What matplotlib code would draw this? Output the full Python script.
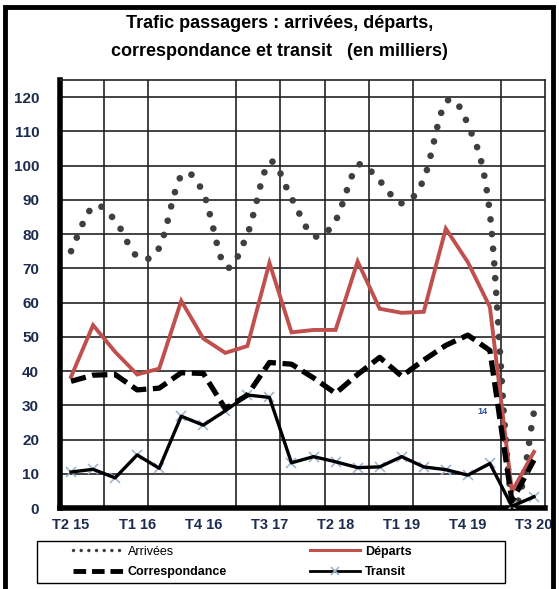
import numpy as np
import matplotlib
matplotlib.use("Agg")
import matplotlib.pyplot as plt
from matplotlib.path import Path
from matplotlib.patches import PathPatch, Rectangle
from matplotlib.lines import Line2D

quarters = ["T2 15", "T3 15", "T4 15", "T1 16", "T2 16", "T3 16", "T4 16", "T1 17",
            "T2 17", "T3 17", "T4 17", "T1 18", "T2 18", "T3 18", "T4 18", "T1 19",
            "T2 19", "T3 19", "T4 19", "T1 20", "T2 20", "T3 20"]
tick_labels = ["T2 15", "T1 16", "T4 16", "T3 17", "T2 18", "T1 19", "T4 19", "T3 20"]
arrivees = [75, 88, 84, 73.5, 76, 97, 92, 70.5, 80, 101, 90.5, 79.5, 84, 100, 95.5,
            89, 96, 118.5, 112, 86, 2.5, 28]
departs = [38.3, 53.4, 45.6, 39, 40.7, 60.5, 49.5, 45.3, 47.3, 71.6, 51.3, 52, 52,
           72, 58.2, 57, 57.3, 81.6, 71.8, 58.7, 4.8, 16.4]
correspondance = [37, 38.8, 39, 34.5, 35, 39.5, 39.3, 29, 33, 42.5, 42, 38, 33.5,
                  39, 44, 38.5, 43.2, 47.5, 50.5, 46, 2, 14]
transit = [10.5, 11.3, 8.8, 15.5, 11.6, 26.8, 24.2, 28.4, 33, 32.3, 13.2, 15, 13.5,
           11.8, 12, 15, 12, 11.2, 9.6, 13, 0.5, 3.3]
labels = ["Arrivées", "Correspondance", "Départs", "Transit"]

navy = "#1c2b4f"
red = "#c0504d"
dotgray = "#3f3f3f"
xcol = "#9fb4d0"

plt.rcParams['font.family'] = ['Liberation Sans', 'DejaVu Sans']

fig = plt.figure(figsize=(5.59, 5.89), dpi=100)
ax = fig.add_axes([60/559, 1-508/589, 485/559, 428/589])

x = np.arange(len(quarters))

# Arrivées: smoothed curve (Bezier through the read points), dotted
pts = np.column_stack([x, arrivees]).astype(float)
verts = [tuple(pts[0])]
codes = [Path.MOVETO]
n = len(pts)
for i in range(n - 1):
    p0 = pts[max(i - 1, 0)]
    p1 = pts[i]
    p2 = pts[i + 1]
    p3 = pts[min(i + 2, n - 1)]
    c1 = p1 + (p2 - p0) / 6.0
    c2 = p2 - (p3 - p1) / 6.0
    verts += [tuple(c1), tuple(c2), tuple(p2)]
    codes += [Path.CURVE4] * 3
patch = PathPatch(Path(verts, codes), facecolor='none', edgecolor=dotgray,
                  linewidth=4.8, linestyle=(0, (0.01, 2.2)), capstyle='round', zorder=3)
ax.add_patch(patch)

ax.plot(x, departs, color=red, linewidth=2.8, zorder=4, solid_joinstyle='miter')
ax.plot(x, correspondance, color='black', linewidth=3.8, linestyle=(0, (2.9, 1.25)),
        zorder=5)
ax.plot(x, transit, color='black', linewidth=2.4, zorder=4)
ax.plot(x, transit, linestyle='none', marker='x', markersize=7, markeredgewidth=1.2,
        color=xcol, zorder=3.5)

ax.text(18.65, 28.2, "14", color="#3050a0", fontsize=6.5, fontweight='bold', ha='center',
        va='center', zorder=6)

ax.set_xlim(-0.5, len(quarters) - 0.5)
ax.set_ylim(0, 125)
ax.set_yticks(np.arange(0, 121, 10))
ax.set_yticklabels([str(v) for v in range(0, 121, 10)], fontsize=11, fontweight='bold',
                   color=navy)
tick_pos = [quarters.index(t) for t in tick_labels]
ax.set_xticks(tick_pos)
ax.set_xticklabels(tick_labels, fontsize=10.5, fontweight='bold', color=navy)
ax.tick_params(axis='x', length=0, pad=7)
ax.tick_params(axis='y', length=0, pad=15)

for yv in range(10, 121, 10):
    ax.axhline(yv, color='#222222', linewidth=1.2, zorder=1)
for b in [1.5, 3.5, 7.5, 9.5, 11.5, 13.5, 15.5, 19.5]:
    ax.axvline(b, color='#222222', linewidth=1.2, zorder=1)

for s in ['top', 'right']:
    ax.spines[s].set_linewidth(1.2)
    ax.spines[s].set_color('#222222')
ax.spines['left'].set_linewidth(4)
ax.spines['bottom'].set_linewidth(4)

# title
fig.text(0.5, 1 - 23/589, "Trafic passagers : arrivées, départs,", ha='center', va='center',
         fontsize=13, fontweight='bold')
fig.text(0.5, 1 - 52/589, "correspondance et transit   (en milliers)", ha='center',
         va='center', fontsize=13, fontweight='bold')

# legend
handles = [
    Line2D([0], [0], color=dotgray, linewidth=2.5, linestyle=(0, (0.01, 2.2)),
           dash_capstyle='round'),
    Line2D([0], [0], color='black', linewidth=3.5, linestyle=(0, (2.6, 1.2))),
    Line2D([0], [0], color=red, linewidth=2.2),
    Line2D([0], [0], color='black', linewidth=2, marker='x', markersize=6,
           markeredgecolor=xcol, markeredgewidth=1.2),
]
leg = fig.legend(handles, labels, ncol=2, loc='center left',
                 bbox_to_anchor=(73/559, 1 - 562/589), frameon=False,
                 fontsize=9, handlelength=4, columnspacing=6.6,
                 handletextpad=0.4, labelspacing=0.7, borderpad=0, borderaxespad=0)
for i, t in enumerate(leg.get_texts()):
    if labels[i] != "Arrivées":
        t.set_fontweight('bold')
fig.patches.append(Rectangle((37/559, 1 - 583/589), 468/559, 42/589,
                             transform=fig.transFigure, fill=False, edgecolor='black',
                             linewidth=1.0, zorder=9))

# outer frame
fig.patches.append(Rectangle((5/559, -0.05), 548/559, 1 - 7/589 + 0.05,
                             transform=fig.transFigure, fill=False, edgecolor='black',
                             linewidth=3.5, zorder=10))

fig.savefig("out.png", dpi=100)
